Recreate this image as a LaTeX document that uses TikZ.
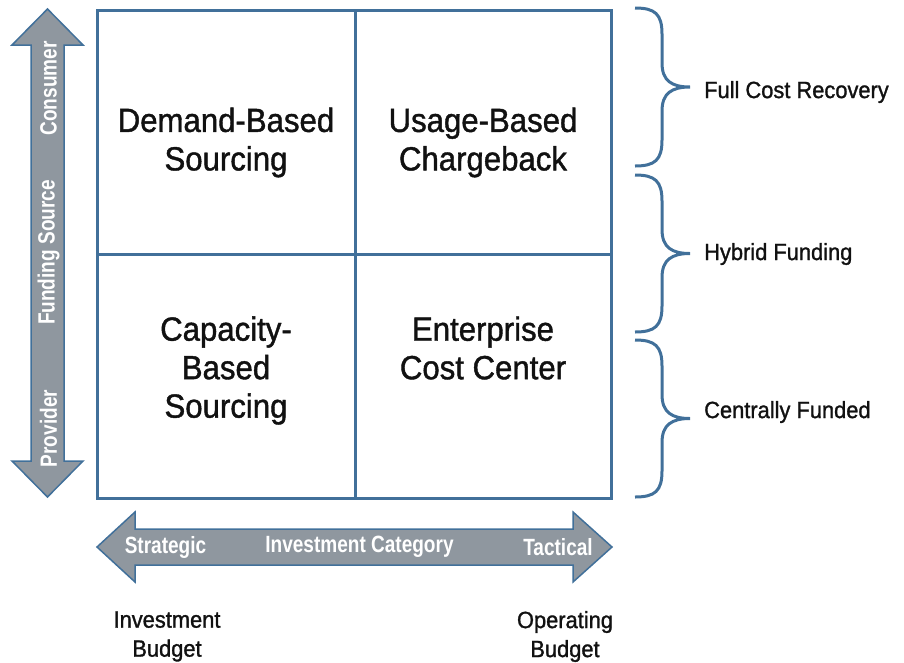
\documentclass[tikz,border=0pt]{standalone}
\usepackage{fontspec}
\setmainfont{Liberation Sans}[FakeStretch=0.93, FakeBold=1.2]
\newfontfamily\arrfont{Liberation Sans Bold}[FakeStretch=0.81]
\definecolor{lineblue}{HTML}{41709A}
\definecolor{arrgray}{HTML}{8F979F}
\definecolor{txt}{HTML}{111111}
\newcommand\mybrace[2]{%
  \draw[bracestyle] (635,#1) .. controls (655,#1) and (662,#1+6) .. (662,#1+26)
    -- (662,{(#1+#2)/2-24}) .. controls (662,{(#1+#2)/2-6}) and (672,{(#1+#2)/2}) .. (690,{(#1+#2)/2})
    .. controls (672,{(#1+#2)/2}) and (662,{(#1+#2)/2+6}) .. (662,{(#1+#2)/2+24})
    -- (662,#2-26) .. controls (662,#2-6) and (655,#2) .. (635,#2);}
\begin{document}
\begin{tikzpicture}[x=1pt,y=-1pt,
  cell/.style={draw=lineblue, line width=3pt, inner sep=0pt, minimum height=244pt},
  quad/.style={align=center, text=txt, inner sep=0pt, font=\fontsize{33.5}{38.5}\selectfont},
  lab/.style={text=txt, inner sep=0pt, font=\fontsize{23.5}{29}\selectfont},
  bot/.style={align=center, text=txt, inner sep=0pt, font=\fontsize{23.5}{29}\selectfont},
  arrtxt/.style={text=white, inner sep=0pt, font=\arrfont\fontsize{23.5}{26}\selectfont},
  bigarrow/.style={fill=arrgray, draw=lineblue, line width=1.5pt, line join=miter},
  bracestyle/.style={draw=lineblue, line width=3pt}]
\useasboundingbox (0,0) rectangle (904,662);
% vertical arrow
\path[bigarrow] (47.5,9) -- (83,45) -- (64,45) -- (64,461) -- (83,461) -- (47.5,497)
  -- (12,461) -- (31,461) -- (31,45) -- (12,45) -- cycle;
% horizontal arrow
\path[bigarrow] (97,547) -- (135,512) -- (135,529) -- (573,529) -- (573,512) -- (612,547)
  -- (573,582) -- (573,565) -- (135,565) -- (135,582) -- cycle;
% grid cells
\node[cell, minimum width=258pt] (c11) at (226,132) {};
\node[cell, minimum width=256pt] (c12) at (483,132) {};
\node[cell, minimum width=258pt] (c21) at (226,376) {};
\node[cell, minimum width=256pt] (c22) at (483,376) {};
% quadrant texts
\node[quad] (q11) at (226,142.5) {Demand-Based\\Sourcing};
\node[quad] (q12) at (483,142.5) {Usage-Based\\Chargeback};
\node[quad] (q21) at (226,370.5) {Capacity-\\Based\\Sourcing};
\node[quad] (q22) at (483,348) {Enterprise\\Cost Center};
% braces
\mybrace{8}{166}
\mybrace{175}{332}
\mybrace{340}{497}
\node[lab, anchor=west] (l1) at (704,92) {Full Cost Recovery};
\node[lab, anchor=west] (l2) at (704,254) {Hybrid Funding};
\node[lab, anchor=west] (l3) at (704,412) {Centrally Funded};
% arrow texts
\node[arrtxt, rotate=90] (a1) at (48.5,88.5) {Consumer};
\node[arrtxt, rotate=90] (a2) at (48.5,252.5) {Funding Source};
\node[arrtxt, rotate=90] (a3) at (48.5,428.5) {Provider};
\node[arrtxt] (b1) at (165.5,547) {Strategic};
\node[arrtxt] (b2) at (359.5,547) {Investment Category};
\node[arrtxt] (b3) at (558,547) {Tactical};
% bottom texts
\node[bot] (i1) at (167,636.5) {Investment\\Budget};
\node[bot] (o1) at (565,636.5) {Operating\\Budget};
\end{tikzpicture}
\end{document}
